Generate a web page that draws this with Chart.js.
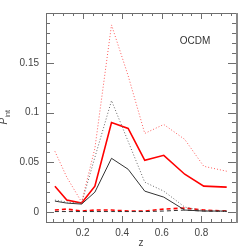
<!DOCTYPE html>
<html>
<head>
<meta charset="utf-8">
<script src="https://cdn.jsdelivr.net/npm/chart.js@4"></script>
<style>
  html, body { margin: 0; padding: 0; background: #fff; }
  canvas { display: block; }
</style>
</head>
<body>
<canvas id="chart" width="249" height="249"></canvas>
<script>
// redshift bins
const zBins = [0.06, 0.12, 0.195, 0.262, 0.346, 0.43, 0.514, 0.61, 0.716, 0.812, 0.928];

// P_int curves
const redSolid  = [0.026, 0.012, 0.009, 0.026, 0.090, 0.084, 0.052, 0.057, 0.038, 0.026, 0.025];
const redDotted = [0.061, 0.035, 0.010, 0.064, 0.188, 0.137, 0.079, 0.088, 0.073, 0.046, 0.041];
const redDashed = [0.002, 0.003, 0.001, 0.002, 0.002, 0.001, 0.001, 0.003, 0.004, 0.002, 0.001];
const blackSolid  = [0.011, 0.009, 0.008, 0.020, 0.054, 0.043, 0.021, 0.015, 0.002, 0.001, 0.001];
const blackDotted = [0.012, 0.010, 0.009, 0.055, 0.112, 0.071, 0.030, 0.021, 0.005, 0.0013, 0.0005];
const blackDashed = [0.0005, 0.0005, 0.0005, 0.0005, 0.0005, 0.0005, 0.0005, 0.001, 0.002, 0.001, 0.0005];

const xTicks = [0.2, 0.4, 0.6, 0.8];
const yTicks = [0, 0.05, 0.1, 0.15];

function pts(ys) {
    return zBins.map((z, i) => ({ x: z, y: ys[i] }));
}

// inward ticks on all four sides plus the frame, the way the original plot has it
const framePlugin = {
    id: 'frame',
    afterDraw(chart) {
        const ctx = chart.ctx;
        const a = chart.chartArea;
        const xs = chart.scales.x, ys = chart.scales.y;
        ctx.save();
        ctx.strokeStyle = '#6e6e6e';
        ctx.lineWidth = 1;

        for (let k = 1; k <= 19; k++) {
            const v = k * 0.05;
            const px = Math.round(xs.getPixelForValue(v)) + 0.5;
            if (px < a.left || px > a.right) continue;
            const major = k % 4 === 0;
            const len = major ? 6 : 3;
            ctx.beginPath();
            ctx.moveTo(px, a.bottom); ctx.lineTo(px, a.bottom - len);
            ctx.moveTo(px, a.top); ctx.lineTo(px, a.top + len);
            ctx.stroke();
        }
        for (let k = 0; k <= 19; k++) {
            const v = k * 0.01;
            const py = Math.round(ys.getPixelForValue(v)) + 0.5;
            const major = k % 5 === 0;
            const len = major ? 8 : 4;
            ctx.beginPath();
            ctx.moveTo(a.left, py); ctx.lineTo(a.left + len, py);
            ctx.moveTo(a.right, py); ctx.lineTo(a.right - len, py);
            ctx.stroke();
        }

        ctx.strokeRect(Math.round(a.left) + 0.5, Math.round(a.top) + 0.5,
            Math.round(a.right - a.left), Math.round(a.bottom - a.top));
        ctx.lineWidth = 2;
        ctx.strokeStyle = '#8a8a8a';
        ctx.beginPath();
        ctx.moveTo(Math.round(a.right) + 1, a.top);
        ctx.lineTo(Math.round(a.right) + 1, a.bottom + 1);
        ctx.stroke();

        // model label
        ctx.fillStyle = '#333';
        ctx.font = '10px "Liberation Sans", Arial, sans-serif';
        ctx.textAlign = 'center';
        ctx.textBaseline = 'middle';
        ctx.fillText('OCDM', 195, 41);

        // y title P_int, rotated
        ctx.fillStyle = '#444';
        ctx.translate(7, (a.top + a.bottom) / 2);
        ctx.rotate(-Math.PI / 2);
        ctx.textAlign = 'left';
        ctx.textBaseline = 'alphabetic';
        ctx.font = 'italic 10px "Liberation Sans", Arial, sans-serif';
        ctx.fillText('P', -7, 0);
        ctx.font = '7px "Liberation Sans", Arial, sans-serif';
        ctx.fillText('int', 0, 3);
        ctx.restore();
    }
};

const tickFont = { family: '"Liberation Sans", Arial, sans-serif', size: 10 };

new Chart(document.getElementById('chart').getContext('2d'), {
    type: 'line',
    data: {
        datasets: [{
            data: pts(redDotted),
            borderColor: '#ff5a5a',
            borderWidth: 1,
            borderDash: [1, 2]
        }, {
            data: pts(blackDotted),
            borderColor: '#666',
            borderWidth: 1,
            borderDash: [1, 2]
        }, {
            data: pts(blackSolid),
            borderColor: '#333',
            borderWidth: 1
        }, {
            data: pts(redSolid),
            borderColor: '#ff0000',
            borderWidth: 1.6
        }, {
            data: pts(blackDashed),
            borderColor: '#333',
            borderWidth: 1,
            borderDash: [4, 3]
        }, {
            data: pts(redDashed),
            borderColor: '#ff0000',
            borderWidth: 1.6,
            borderDash: [4, 3]
        }]
    },
    options: {
        responsive: false,
        animation: false,
        layout: { padding: { top: 12, right: 13, left: 0, bottom: 0 } },
        elements: { point: { radius: 0 }, line: { tension: 0 } },
        plugins: { legend: { display: false }, tooltip: { enabled: false } },
        scales: {
            x: {
                type: 'linear',
                min: 0.015,
                max: 0.975,
                grid: { display: false, drawTicks: false },
                border: { display: false },
                afterBuildTicks: s => { s.ticks = xTicks.map(v => ({ value: v })); },
                afterFit: s => { s.height = 27; },
                ticks: {
                    color: '#444',
                    font: tickFont,
                    padding: 5,
                    maxRotation: 0,
                    callback: v => String(v)
                },
                title: {
                    display: true,
                    text: 'z',
                    color: '#444',
                    font: tickFont,
                    padding: { top: 0, bottom: 0 }
                }
            },
            y: {
                min: -0.01,
                max: 0.2,
                grid: { display: false, drawTicks: false },
                border: { display: false },
                afterBuildTicks: s => { s.ticks = yTicks.map(v => ({ value: v })); },
                afterFit: s => { s.width = 46; },
                ticks: {
                    color: '#444',
                    font: tickFont,
                    padding: 7,
                    callback: v => String(v)
                }
            }
        }
    },
    plugins: [framePlugin]
});
</script>
</body>
</html>
